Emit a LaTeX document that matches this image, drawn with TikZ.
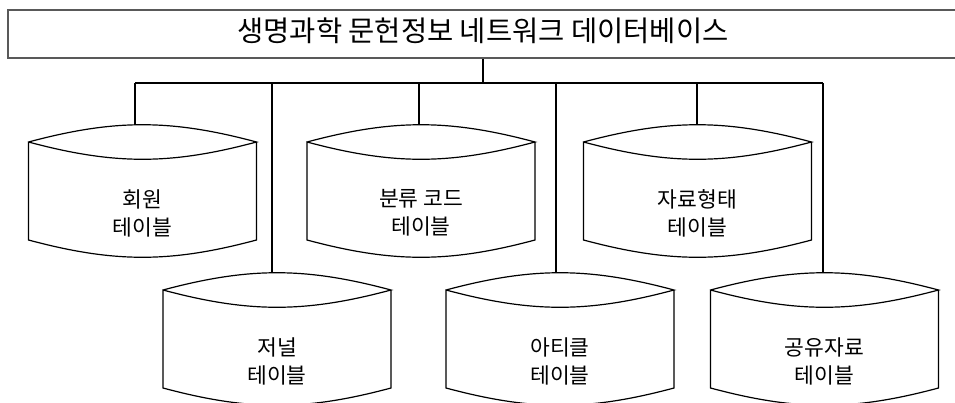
\documentclass[tikz,border=0pt]{standalone}
\usepackage{fontspec}
\newfontfamily\kr{Noto Sans CJK KR}
\newcommand{\dbcyl}[5]{%
  \draw[cylline] (#2-114,#3) to[bend left=15] (#2+114,#3) to[bend left=15] (#2-114,#3)
    -- (#2-114,#3+98) to[bend right=15] (#2+114,#3+98) -- (#2+114,#3);
  \node[cyltext] (#1) at (#2,#3+71) {#5};
  \coordinate (#1top) at (#4,#3-17.5);
}
\begin{document}
\begin{tikzpicture}[x=1pt,y=-1pt,
  conn/.style={line width=2.2pt, black},
  cylline/.style={line width=1.2pt, black},
  titlebox/.style={draw=black!65, line width=2pt, minimum width=950pt, minimum height=48pt, inner sep=0pt, font=\kr\fontsize{28.5}{30}\selectfont},
  cyltext/.style={align=center, font=\kr\fontsize{21.5}{28}\selectfont, inner sep=0pt}]
\useasboundingbox (0,0) rectangle (955,402);
\node[titlebox] (title) at (483,34) {\raisebox{3pt}[\height][\depth]{생명과학 문헌정보 네트워크 데이터베이스}};
\coordinate (hub) at (483,83);

\dbcyl{c1}{142.5}{142}{135}{회원\\테이블}
\dbcyl{c2}{421}{142}{419}{분류 코드\\테이블}
\dbcyl{c3}{697.5}{142}{697}{자료형태\\테이블}
\dbcyl{c4}{277}{290}{272}{저널\\테이블}
\dbcyl{c5}{560}{290}{556}{아티클\\테이블}
\dbcyl{c6}{824.5}{290}{823}{공유자료\\테이블}

\draw[conn] (title.south) -- (hub);
\draw[conn] (c1top |- hub) -- (c6top |- hub);
\foreach \c in {c1,c2,c3,c4,c5,c6}
  \draw[conn] (\c top |- hub) -- (\c top);
\end{tikzpicture}
\end{document}
